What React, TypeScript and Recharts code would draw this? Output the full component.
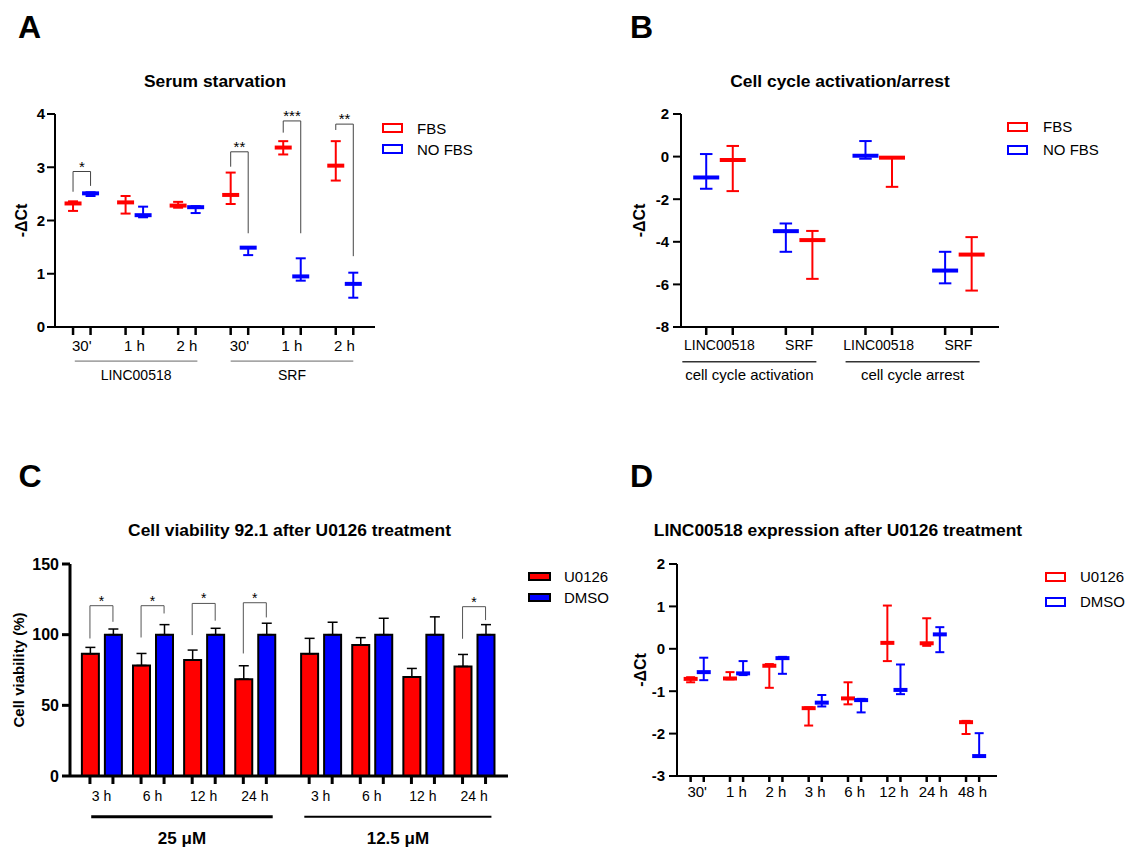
import { Bar, ComposedChart, ErrorBar, Legend, ReferenceLine, Scatter, XAxis, YAxis } from "recharts"

const RED = "#ff0000"
const BLUE = "#0000ff"
const FONT = '"Liberation Sans", Arial, Helvetica, sans-serif'

// ---- A: serum starvation (mean with range)
const aTimes = ["30'", "1 h", "2 h", "30'", "1 h", "2 h"]
const aGenes = ["LINC00518", "SRF"]
const aFbsMean = [2.32, 2.34, 2.28, 2.48, 3.37, 3.03]
const aFbsLow = [2.18, 2.13, 2.24, 2.31, 3.24, 2.75]
const aFbsHigh = [2.36, 2.46, 2.35, 2.9, 3.49, 3.49]
const aNoFbsMean = [2.51, 2.1, 2.25, 1.49, 0.95, 0.81]
const aNoFbsLow = [2.46, 2.06, 2.14, 1.35, 0.87, 0.55]
const aNoFbsHigh = [2.53, 2.26, 2.27, 1.5, 1.29, 1.02]
const aSigPair = [0, 3, 4, 5]
const aSigTop = [2.92, 3.29, 3.87, 3.81]
const aSigLeft = [2.54, 3.01, 3.65, 3.7]
const aSigRight = [2.65, 1.76, 1.76, 1.33]
const aSigMark = ["*", "**", "***", "**"]

// ---- B: cell cycle activation / arrest
const bGenes = ["LINC00518", "SRF", "LINC00518", "SRF"]
const bConditions = ["cell cycle activation", "cell cycle arrest"]
const bNoFbsMean = [-0.98, -3.5, 0.04, -5.35]
const bNoFbsLow = [-1.51, -4.47, -0.1, -5.95]
const bNoFbsHigh = [0.12, -3.14, 0.73, -4.47]
const bFbsMean = [-0.16, -3.92, -0.05, -4.6]
const bFbsLow = [-1.62, -5.74, -1.42, -6.29]
const bFbsHigh = [0.5, -3.49, -0.05, -3.78]

// ---- C: cell viability after U0126
const cTimes = ["3 h", "6 h", "12 h", "24 h", "3 h", "6 h", "12 h", "24 h"]
const cDoses = ["25 \u03bcM", "12.5 \u03bcM"]
const cU0126 = [86.5, 78.2, 82.0, 68.5, 86.5, 92.7, 70.1, 77.5]
const cU0126Sd = [4.5, 8.5, 7.1, 9.5, 10.9, 5.2, 6.0, 8.5]
const cDmso = [100, 100, 100, 100, 100, 100, 100, 100]
const cDmsoSd = [4.0, 7.1, 4.5, 8.1, 8.8, 11.6, 12.6, 7.1]
const cSigPair = [0, 1, 2, 3, 7]
const cSigTop = [120.5, 120.5, 122.1, 122.6, 119.8]
const cSigLeft = [97.3, 98, 99.7, 86.7, 97.1]
const cSigRight = [109.1, 115, 109.9, 112.2, 110.3]

// ---- D: LINC00518 after U0126
const dTimes = ["30'", "1 h", "2 h", "3 h", "6 h", "12 h", "24 h", "48 h"]
const dU0126Mean = [-0.71, -0.7, -0.4, -1.4, -1.17, 0.14, 0.13, -1.73]
const dU0126Low = [-0.79, -0.72, -0.92, -1.81, -1.31, -0.29, 0.07, -2.01]
const dU0126High = [-0.67, -0.55, -0.36, -1.38, -0.79, 1.02, 0.72, -1.7]
const dDmsoMean = [-0.55, -0.58, -0.22, -1.27, -1.21, -0.97, 0.34, -2.53]
const dDmsoLow = [-0.74, -0.62, -0.59, -1.36, -1.5, -1.07, -0.08, -2.54]
const dDmsoHigh = [-0.21, -0.29, -0.19, -1.09, -1.18, -0.37, 0.51, -1.99]

type Series = { name: string; color: string; slot: number; mean: number[]; low: number[]; high: number[] }
type Group = { name: string; from: number; to: number }
type Bracket = { x0: number; x1: number; top: number; left: number; right: number; mark: string }

// each pair sits on 3 units: slot 0, slot 1, gap
const toPoints = (s: Series) =>
  s.mean.map((m, i) => ({ x: i * 3 + s.slot, y: m, err: [m - s.low[i], s.high[i] - m] }))

const pairTicks = (n: number) => Array.from({ length: n }, (_, i) => [i * 3, i * 3 + 0.5, i * 3 + 1]).flat()

const pairTick = (labels: string[], len: number, dy: number, size: number) => (p: any) => {
  const v = p.payload.value
  if (Number.isInteger(v)) return <line x1={p.x} x2={p.x} y1={p.y} y2={p.y + len} stroke="#000" strokeWidth={2.5} />
  return (
    <text x={p.x} y={p.y + dy} textAnchor="middle" fontSize={size} fill="#000">
      {labels[Math.floor(v / 3)]}
    </text>
  )
}

const meanMark = (color: string, w: number) => (p: any) => (
  <line x1={p.cx - w / 2} x2={p.cx + w / 2} y1={p.cy} y2={p.cy} stroke={color} strokeWidth={4} />
)

const bracketLines = (b: Bracket, key: string, stroke: string, font: number) => [
  <ReferenceLine key={key + "l"} segment={[{ x: b.x0, y: b.left }, { x: b.x0, y: b.top }]} ifOverflow="visible" stroke={stroke} strokeWidth={1} />,
  <ReferenceLine
    key={key + "t"}
    segment={[{ x: b.x0, y: b.top }, { x: b.x1, y: b.top }]}
    ifOverflow="visible"
    stroke={stroke}
    strokeWidth={1}
    label={{ value: b.mark, position: "top", offset: 0, fill: "#000", fontSize: font }}
  />,
  <ReferenceLine key={key + "r"} segment={[{ x: b.x1, y: b.top }, { x: b.x1, y: b.right }]} ifOverflow="visible" stroke={stroke} strokeWidth={1} />,
]

function Swatches({ items, filled, boxW, boxH, gap, row }: { items: { name: string; color: string }[]; filled?: boolean; boxW: number; boxH: number; gap: number; row: number }) {
  return (
    <div style={{ fontFamily: FONT }}>
      {items.map((it) => (
        <div key={it.name} style={{ display: "flex", alignItems: "center", height: row, whiteSpace: "nowrap" }}>
          <span
            style={{
              boxSizing: "border-box",
              width: boxW,
              height: boxH,
              border: `2.5px solid ${filled ? "#000" : it.color}`,
              background: filled ? it.color : "transparent",
            }}
          />
          <span style={{ marginLeft: gap, fontSize: 15, color: "#000", lineHeight: 1 }}>{it.name}</span>
        </div>
      ))}
    </div>
  )
}

interface RangePanelProps {
  left: number
  top: number
  width: number
  height: number
  margin: { top: number; right: number; bottom: number; left: number }
  xHeight: number
  xDomain: [number, number]
  yDomain: [number, number]
  yTicks: number[]
  yTickMargin: number
  yLabelOffset: number
  labels: string[]
  tickLen: number
  labelDy: number
  tickFont: number
  series: Series[]
  legendOrder: string[]
  markW: number
  capW: number
  groups: Group[]
  groupY: number
  groupOffset: number
  groupFont: number
  groupStroke: string
  groupWidth: number
  brackets: Bracket[]
  legend: { left: number; top: number; row: number; gap: number }
}

function RangePanel(p: RangePanelProps) {
  const legendItems = p.legendOrder.map((n) => p.series.find((s) => s.name === n)!)
  return (
    <div style={{ position: "absolute", left: p.left, top: p.top }}>
      <ComposedChart width={p.width} height={p.height} margin={p.margin}>
        <XAxis
          type="number"
          dataKey="x"
          domain={p.xDomain}
          allowDataOverflow
          ticks={pairTicks(p.labels.length)}
          interval={0}
          tickSize={0}
          tickMargin={0}
          tickLine={false}
          axisLine={{ stroke: "#000", strokeWidth: 2 }}
          height={p.xHeight}
          tick={pairTick(p.labels, p.tickLen, p.labelDy, p.tickFont)}
        />
        <YAxis
          type="number"
          dataKey="y"
          domain={p.yDomain}
          allowDataOverflow
          ticks={p.yTicks}
          interval={0}
          width={50}
          tickSize={8}
          tickMargin={p.yTickMargin}
          tick={{ fill: "#000", fontSize: 15, fontWeight: 700 }}
          tickLine={{ stroke: "#000", strokeWidth: 2 }}
          axisLine={{ stroke: "#000", strokeWidth: 2 }}
          label={{
            value: "-\u0394Ct",
            angle: -90,
            position: "insideLeft",
            offset: p.yLabelOffset,
            fill: "#000",
            style: { textAnchor: "middle", fontWeight: 700, fontSize: 16 },
          }}
        />
        {p.groups.map((g) => (
          <ReferenceLine
            key={g.name + g.from}
            segment={[{ x: g.from, y: p.groupY }, { x: g.to, y: p.groupY }]}
            ifOverflow="visible"
            stroke={p.groupStroke}
            strokeWidth={p.groupWidth}
            label={{ value: g.name, position: "bottom", offset: p.groupOffset, fill: "#000", fontSize: p.groupFont }}
          />
        ))}
        {p.brackets.flatMap((b, i) => bracketLines(b, "br" + i, "#444", 15))}
        {p.series.map((s) => (
          <Scatter key={s.name} name={s.name} data={toPoints(s)} fill={s.color} shape={meanMark(s.color, p.markW)} isAnimationActive={false}>
            <ErrorBar dataKey="err" direction="y" width={p.capW / 2} strokeWidth={2} stroke={s.color} />
          </Scatter>
        ))}
        <Legend
          layout="vertical"
          align="center"
          verticalAlign="middle"
          wrapperStyle={{ left: p.legend.left, top: p.legend.top }}
          content={() => <Swatches items={legendItems} boxW={21} boxH={10} gap={p.legend.gap} row={p.legend.row} />}
        />
      </ComposedChart>
    </div>
  )
}

// ---- panel C geometry
const C_WIDTH = 620
const C_MARGIN = { top: 19, right: 112, bottom: 0, left: 20 }
const C_DOMAIN: [number, number] = [-0.615, 7.952]
const C_GROUP_GAP = 0.288
const C_BAR = 17
const C_GAP = 6
const C_HALF = (C_BAR + C_GAP) / 2
const cPairX = cTimes.map((_, i) => i + (i >= 4 ? C_GROUP_GAP : 0))
const cPxPerUnit = (C_WIDTH - C_MARGIN.left - C_MARGIN.right - 50) / (C_DOMAIN[1] - C_DOMAIN[0])
const cHalfUnit = C_HALF / cPxPerUnit

function PanelC() {
  const rows = cTimes.map((t, i) => ({
    x: cPairX[i],
    time: t,
    u0126: cU0126[i],
    dmso: cDmso[i],
    uErr: [0, cU0126Sd[i]],
    dErr: [0, cDmsoSd[i]],
  }))
  const brackets: Bracket[] = cSigPair.map((k, i) => ({
    x0: cPairX[k] - cHalfUnit,
    x1: cPairX[k] + cHalfUnit,
    top: cSigTop[i],
    left: cSigLeft[i],
    right: cSigRight[i],
    mark: "*",
  }))
  const doseSpans = [
    [cPairX[0] - 0.2, cPairX[3] + 0.35],
    [cPairX[4] - 0.32, cPairX[7] + 0.34],
  ]
  const cTick = (p: any) => (
    <g>
      <line x1={p.x - C_HALF} x2={p.x - C_HALF} y1={p.y} y2={p.y + 8} stroke="#000" strokeWidth={3} />
      <line x1={p.x + C_HALF} x2={p.x + C_HALF} y1={p.y} y2={p.y + 8} stroke="#000" strokeWidth={3} />
      <text x={p.x} y={p.y + 25} textAnchor="middle" fontSize={14} fill="#000">
        {cTimes[p.index]}
      </text>
    </g>
  )
  return (
    <div style={{ position: "absolute", left: 0, top: 545 }}>
      <ComposedChart width={C_WIDTH} height={305} margin={C_MARGIN} data={rows} barGap={C_GAP}>
        <XAxis
          type="number"
          dataKey="x"
          domain={C_DOMAIN}
          allowDataOverflow
          ticks={cPairX}
          interval={0}
          tickSize={0}
          tickMargin={0}
          tickLine={false}
          axisLine={{ stroke: "#000", strokeWidth: 3 }}
          height={74}
          tick={cTick}
        />
        <YAxis
          type="number"
          domain={[0, 150]}
          ticks={[0, 50, 100, 150]}
          interval={0}
          width={50}
          tickSize={8}
          tickMargin={3}
          tick={{ fill: "#000", fontSize: 16, fontWeight: 700 }}
          tickLine={{ stroke: "#000", strokeWidth: 3 }}
          axisLine={{ stroke: "#000", strokeWidth: 3 }}
          label={{
            value: "Cell viability (%)",
            angle: -90,
            position: "insideLeft",
            offset: -1,
            fill: "#000",
            style: { textAnchor: "middle", fontWeight: 700, fontSize: 15 },
          }}
        />
        <Bar dataKey="u0126" name="U0126" fill={RED} stroke="#000" strokeWidth={2} barSize={C_BAR} isAnimationActive={false}>
          <ErrorBar dataKey="uErr" direction="y" width={5} strokeWidth={1.5} stroke="#000" />
        </Bar>
        <Bar dataKey="dmso" name="DMSO" fill={BLUE} stroke="#000" strokeWidth={2} barSize={C_BAR} isAnimationActive={false}>
          <ErrorBar dataKey="dErr" direction="y" width={5} strokeWidth={1.5} stroke="#000" />
        </Bar>
        {brackets.flatMap((b, i) => bracketLines(b, "cb" + i, "#555", 14))}
        {cDoses.map((d, i) => (
          <ReferenceLine
            key={d}
            segment={[{ x: doseSpans[i][0], y: -28.8 }, { x: doseSpans[i][1], y: -28.8 }]}
            ifOverflow="visible"
            stroke="#000"
            strokeWidth={i === 0 ? 3 : 2}
            label={{ value: d, position: "bottom", offset: 15, fill: "#000", fontSize: 17, fontWeight: 700 }}
          />
        ))}
        <Legend
          layout="vertical"
          align="center"
          verticalAlign="middle"
          wrapperStyle={{ left: 528, top: 21 }}
          content={() => (
            <Swatches
              items={[
                { name: "U0126", color: RED },
                { name: "DMSO", color: BLUE },
              ]}
              filled
              boxW={23}
              boxH={9}
              gap={13}
              row={21.3}
            />
          )}
        />
      </ComposedChart>
    </div>
  )
}

const titleStyle = (cx: number, top: number) =>
  ({
    position: "absolute",
    left: cx,
    top,
    transform: "translateX(-50%)",
    whiteSpace: "nowrap",
    fontWeight: 700,
    fontSize: 17.4,
    lineHeight: "17.4px",
  }) as const

const letterStyle = (left: number, top: number) =>
  ({ position: "absolute", left, top, fontWeight: 700, fontSize: 32, lineHeight: "32px" }) as const

export default function App() {
  const aSeries: Series[] = [
    { name: "FBS", color: RED, slot: 0, mean: aFbsMean, low: aFbsLow, high: aFbsHigh },
    { name: "NO FBS", color: BLUE, slot: 1, mean: aNoFbsMean, low: aNoFbsLow, high: aNoFbsHigh },
  ]
  const aBrackets: Bracket[] = aSigPair.map((k, i) => ({
    x0: k * 3,
    x1: k * 3 + 1,
    top: aSigTop[i],
    left: aSigLeft[i],
    right: aSigRight[i],
    mark: aSigMark[i],
  }))
  const bSeries: Series[] = [
    { name: "NO FBS", color: BLUE, slot: 0, mean: bNoFbsMean, low: bNoFbsLow, high: bNoFbsHigh },
    { name: "FBS", color: RED, slot: 1, mean: bFbsMean, low: bFbsLow, high: bFbsHigh },
  ]
  const dSeries: Series[] = [
    { name: "U0126", color: RED, slot: 0, mean: dU0126Mean, low: dU0126Low, high: dU0126High },
    { name: "DMSO", color: BLUE, slot: 1, mean: dDmsoMean, low: dDmsoLow, high: dDmsoHigh },
  ]

  return (
    <div
      style={{
        position: "absolute",
        left: 0,
        top: 0,
        width: 1129,
        height: 850,
        overflow: "hidden",
        background: "#fff",
        fontFamily: FONT,
        color: "#000",
      }}
    >
      <div style={letterStyle(18, 11)}>A</div>
      <div style={letterStyle(630, 11)}>B</div>
      <div style={letterStyle(18.5, 460)}>C</div>
      <div style={letterStyle(630, 460)}>D</div>

      <div style={titleStyle(215, 72.5)}>Serum starvation</div>
      <div style={titleStyle(840, 72.5)}>Cell cycle activation/arrest</div>
      <div style={titleStyle(289.5, 522)}>Cell viability 92.1 after U0126 treatment</div>
      <div style={titleStyle(838, 522)}>LINC00518 expression after U0126 treatment</div>

      <RangePanel
        left={0}
        top={90}
        width={480}
        height={301}
        margin={{ top: 24, right: 105, bottom: 0, left: 5 }}
        xHeight={64}
        xDomain={[-1.03, 17.24]}
        yDomain={[0, 4]}
        yTicks={[0, 1, 2, 3, 4]}
        yTickMargin={2}
        yLabelOffset={16.7}
        labels={aTimes}
        tickLen={8}
        labelDy={24}
        tickFont={15}
        series={aSeries}
        legendOrder={["FBS", "NO FBS"]}
        markW={17}
        capW={10}
        groups={[
          { name: aGenes[0], from: 0.1, to: 7.1 },
          { name: aGenes[1], from: 9, to: 16 },
        ]}
        groupY={-0.64}
        groupOffset={9}
        groupFont={14}
        groupStroke="#666"
        groupWidth={1}
        brackets={aBrackets}
        legend={{ left: 382, top: 27.5, row: 21, gap: 14 }}
      />

      <RangePanel
        left={600}
        top={90}
        width={510}
        height={301}
        margin={{ top: 24, right: 111, bottom: 0, left: 31 }}
        xHeight={64}
        xDomain={[-0.95, 11.03]}
        yDomain={[-8, 2]}
        yTicks={[-8, -6, -4, -2, 0, 2]}
        yTickMargin={4}
        yLabelOffset={8.3}
        labels={bGenes}
        tickLen={8}
        labelDy={23}
        tickFont={14}
        series={bSeries}
        legendOrder={["FBS", "NO FBS"]}
        markW={26}
        capW={12.5}
        groups={[
          { name: bConditions[0], from: -0.9, to: 4.15 },
          { name: bConditions[1], from: 5.25, to: 10.3 },
        ]}
        groupY={-9.63}
        groupOffset={8}
        groupFont={15}
        groupStroke="#333"
        groupWidth={1.5}
        brackets={[]}
        legend={{ left: 407, top: 25, row: 23.3, gap: 15 }}
      />

      <PanelC />

      <RangePanel
        left={600}
        top={545}
        width={510}
        height={271}
        margin={{ top: 19, right: 113, bottom: 0, left: 27 }}
        xHeight={40}
        xDomain={[-1.04, 23.36]}
        yDomain={[-3, 2]}
        yTicks={[-3, -2, -1, 0, 1, 2]}
        yTickMargin={4}
        yLabelOffset={13.4}
        labels={dTimes}
        tickLen={6}
        labelDy={21}
        tickFont={15}
        series={dSeries}
        legendOrder={["U0126", "DMSO"]}
        markW={14}
        capW={9}
        groups={[]}
        groupY={-3}
        groupOffset={0}
        groupFont={14}
        groupStroke="#000"
        groupWidth={1}
        brackets={[]}
        legend={{ left: 445, top: 19.2, row: 25, gap: 14 }}
      />
    </div>
  )
}
